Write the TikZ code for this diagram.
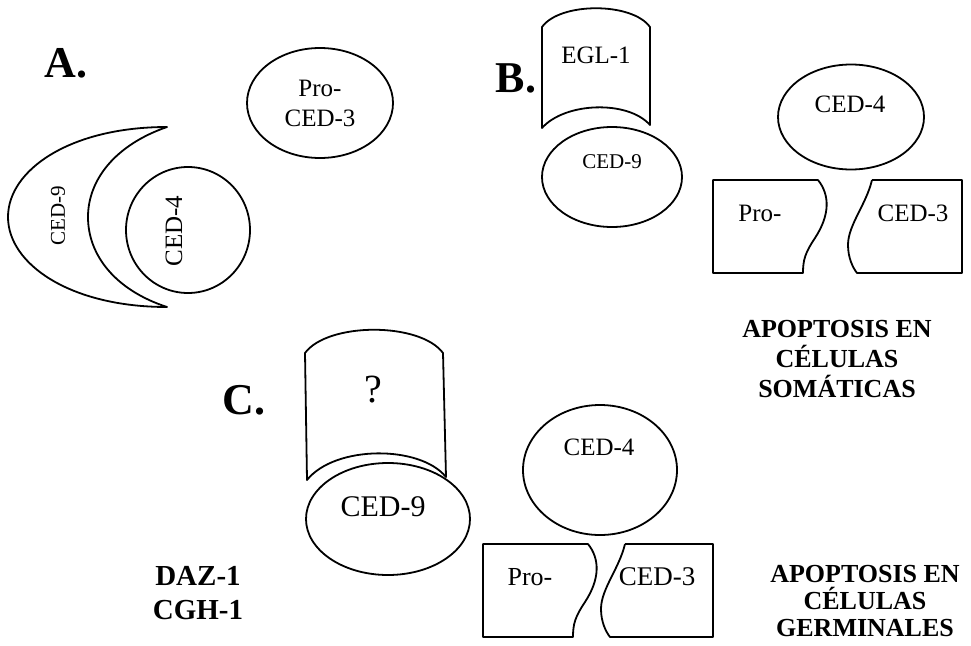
\documentclass[tikz,border=0pt]{standalone}
\usepackage{fontspec}
\setmainfont{Liberation Serif}
\usepackage{tikz}
\usetikzlibrary{shapes.geometric}

\begin{document}
\begin{tikzpicture}[
  x=1pt, y=-1pt,
  outline/.style={draw, line width=1.8pt, line join=round},
  blob/.style={ellipse, draw, line width=1.8pt, inner sep=0pt},
  txt/.style={inner sep=0pt, font=\fontsize{25}{30}\selectfont},
  panel/.style={inner sep=0pt, font=\bfseries\fontsize{44}{44}\selectfont},
  note/.style={inner sep=0pt, align=center, font=\bfseries\fontsize{26}{30}\selectfont}
]
\useasboundingbox (0,0) rectangle (971,645);

% A
\node[panel] (labA) at (66,63) {A.};
\node[blob, minimum width=146pt, minimum height=110pt, align=center, font=\fontsize{25}{30}\selectfont] (proA) at (320,103) {Pro-\\CED-3};
\draw[outline] (167,127) .. controls (70,127) and (8,170) .. (8,217)
  .. controls (8,264) and (70,307) .. (167,307)
  .. controls (115,290) and (88,255) .. (88,217)
  .. controls (88,180) and (115,145) .. (167,127) -- cycle;
\node[txt, rotate=90, font=\fontsize{21}{24}\selectfont] (nineA) at (58,216) {CED-9};
\node[blob, minimum width=124pt, minimum height=126pt] (fourA) at (188,230) {};
\node[txt, rotate=90] (fourAtxt) at (174,231) {CED-4};

% B
\node[panel] (labB) at (516,78) {B.};
\draw[outline] (542,128) -- (542,27) .. controls (560,2) and (632,2) .. (650,27)
  -- (650,125) .. controls (628,100) and (565,102) .. (542,128) -- cycle;
\node[txt] (eglB) at (596,55) {EGL-1};
\node[blob, minimum width=140pt, minimum height=100pt] (nineB) at (612,177) {};
\node[txt, font=\fontsize{21}{24}\selectfont] (nineBtxt) at (612,162) {CED-9};
\node[blob, minimum width=146pt, minimum height=105pt] (fourB) at (851,117) {};
\node[txt] (fourBtxt) at (850,104) {CED-4};
\draw[outline] (818,180) -- (713,180) -- (713,273) -- (803,273)
  .. controls (803,260) and (805,253) .. (815,238)
  .. controls (830,215) and (830,195) .. (818,180);
\node[txt] (proB) at (760,213) {Pro-};
\draw[outline] (872,180) -- (962,180) -- (962,273) -- (857,273)
  .. controls (853,268) and (848,258) .. (848,245)
  .. controls (848,225) and (866,205) .. (872,180);
\node[txt] (threeB) at (913,213) {CED-3};
\node[note] (somB) at (837,359) {APOPTOSIS EN\\CÉLULAS\\SOMÁTICAS};

% C
\node[panel] (labC) at (244,400) {C.};
\draw[outline] (307,480) -- (305,353) .. controls (328,322) and (420,322) .. (443,353)
  -- (446,477) .. controls (420,445) and (335,445) .. (307,480) -- cycle;
\node[txt, font=\fontsize{40}{44}\selectfont] (askC) at (373,390) {?};
\node[blob, minimum width=164pt, minimum height=112pt] (nineC) at (388,519) {};
\node[txt, font=\fontsize{30}{34}\selectfont] (nineCtxt) at (383,507) {CED-9};
\node[blob, minimum width=154pt, minimum height=130pt] (fourC) at (600,470) {};
\node[txt] (fourCtxt) at (599,447) {CED-4};
\draw[outline] (588,544) -- (483,544) -- (483,637) -- (573,637)
  .. controls (573,624) and (575,617) .. (585,602)
  .. controls (600,579) and (600,559) .. (588,544);
\node[txt, font=\fontsize{26}{30}\selectfont] (proC) at (530,577) {Pro-};
\draw[outline] (625,544) -- (713,544) -- (713,637) -- (610,637)
  .. controls (606,632) and (601,622) .. (601,609)
  .. controls (601,589) and (619,569) .. (625,544);
\node[txt, font=\fontsize{27}{30}\selectfont] (threeC) at (657,577) {CED-3};
\node[note, font=\bfseries\fontsize{29}{34}\selectfont] (dazC) at (198,593) {DAZ-1\\CGH-1};
\node[note, font=\bfseries\fontsize{26}{27}\selectfont] (gerC) at (865,601) {APOPTOSIS EN\\CÉLULAS\\GERMINALES};
\end{tikzpicture}
\end{document}
